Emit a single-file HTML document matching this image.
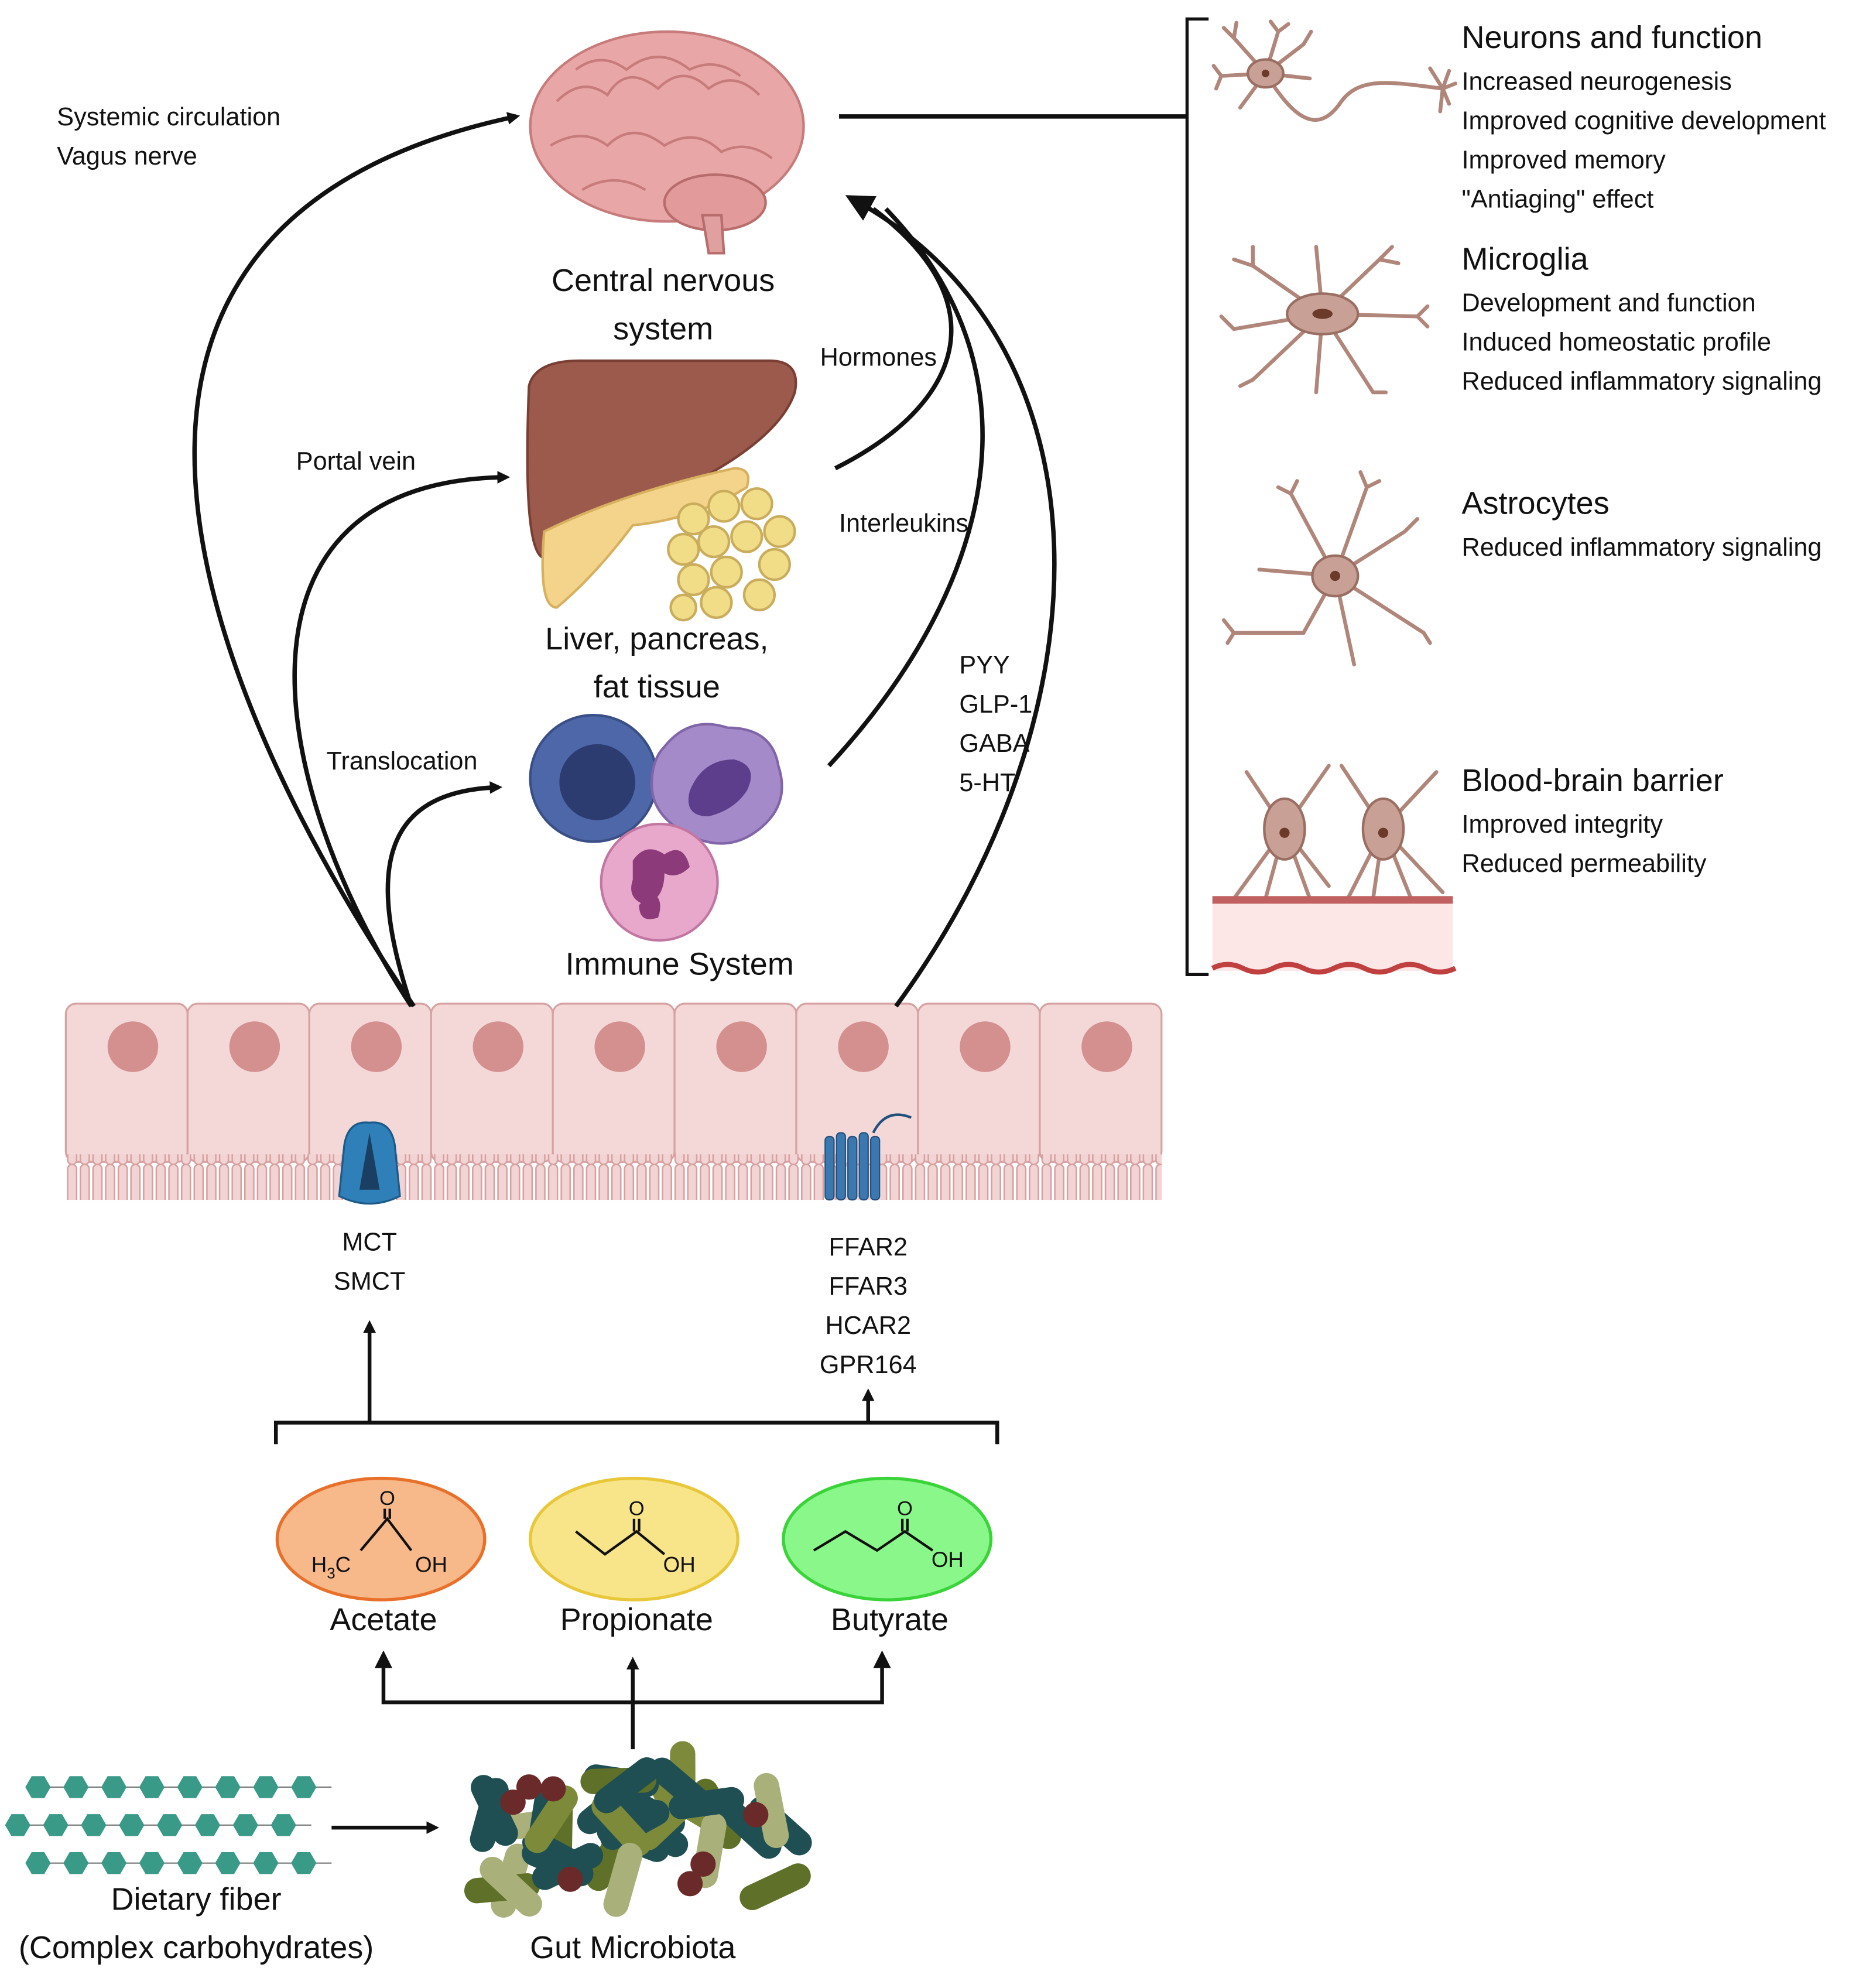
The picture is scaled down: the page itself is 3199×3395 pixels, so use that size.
<!DOCTYPE html>
<html><head><meta charset="utf-8"><style>
html,body{margin:0;padding:0;background:#fff;}
svg{display:block;}
text{font-family:"Liberation Sans",sans-serif;fill:#111;}
</style></head><body>
<svg id="s" width="3199" height="3395" viewBox="0 0 1480 1570.7" xmlns="http://www.w3.org/2000/svg">
<defs>
<marker id="ah" markerWidth="10" markerHeight="10" refX="7" refY="5" orient="auto" markerUnits="userSpaceOnUse" viewBox="0 0 10 10"><path d="M0,0 L10,5 L0,10 z" fill="#111"/></marker>
<marker id="ahb" markerWidth="22" markerHeight="22" refX="14" refY="11" orient="auto" markerUnits="userSpaceOnUse" viewBox="0 0 22 22"><path d="M0,0 L22,11 L0,22 z" fill="#111"/></marker>
<pattern id="villi" x="52" y="0" width="10" height="40" patternUnits="userSpaceOnUse"><rect x="1.5" y="0" width="7" height="40" rx="3.5" fill="#f2d4d4" stroke="#d8a0a0" stroke-width="1.2"/></pattern>
</defs>

<g>
<ellipse cx="527" cy="100" rx="108" ry="75" fill="#e9a6a6" stroke="#c77b7b" stroke-width="2"/>
<path d="M440,80 q20,-20 40,-5 q15,-25 40,-5 q20,-20 40,0 q20,-15 40,5 M435,115 q25,-15 45,0 q20,-20 45,0 q25,-15 45,5 q20,-10 40,5 M455,55 q20,-15 40,0 q25,-20 50,0 q20,-10 40,5 M460,150 q25,-15 50,0" fill="none" stroke="#c77b7b" stroke-width="2"/>
<ellipse cx="565" cy="160" rx="40" ry="22" fill="#e29a9a" stroke="#b86d6d" stroke-width="2"/>
<path d="M555,170 L560,200 L572,200 L570,170 z" fill="#e0a0a0" stroke="#b86d6d" stroke-width="2"/>
</g>
<text x="524" y="230" font-size="25" text-anchor="middle">Central nervous</text>
<text x="524" y="268" font-size="25" text-anchor="middle">system</text>

<path d="M418,305 q5,-20 40,-20 l150,0 q25,0 20,25 q-10,30 -60,60 q-60,35 -140,70 q-15,-10 -10,-135 z" fill="#9c5a4c" stroke="#7a3f34" stroke-width="2"/>
<path d="M430,420 q60,-30 150,-50 q15,0 10,15 q-40,25 -90,30 q-30,40 -60,65 q-15,0 -10,-60 z" fill="#f3d48a" stroke="#d7b060" stroke-width="2"/>
<g fill="#f1dc88" stroke="#c9ad5c" stroke-width="2">
<circle cx="548" cy="410" r="12"/><circle cx="572" cy="400" r="12"/><circle cx="598" cy="398" r="12"/><circle cx="616" cy="420" r="12"/>
<circle cx="540" cy="434" r="12"/><circle cx="564" cy="428" r="12"/><circle cx="590" cy="424" r="12"/><circle cx="612" cy="446" r="12"/>
<circle cx="548" cy="458" r="12"/><circle cx="574" cy="452" r="12"/><circle cx="600" cy="470" r="12"/><circle cx="566" cy="476" r="12"/><circle cx="540" cy="480" r="10"/>
</g>
<text x="519" y="513" font-size="25" text-anchor="middle">Liver, pancreas,</text>
<text x="519" y="551" font-size="25" text-anchor="middle">fat tissue</text>

<circle cx="469" cy="615" r="50" fill="#4d67a8" stroke="#3a4f86" stroke-width="2"/>
<circle cx="472" cy="618" r="30" fill="#2c3c70"/>
<path d="M525,590 q20,-25 50,-15 q35,0 40,30 q10,30 -15,50 q-25,20 -55,5 q-30,-15 -30,-40 q0,-20 10,-30 z" fill="#a48ac8" stroke="#8066a8" stroke-width="2"/>
<path d="M545,625 q10,-25 35,-25 q20,5 10,25 q-10,15 -30,20 q-20,0 -15,-20 z" fill="#5c3e8c"/>
<circle cx="521" cy="697" r="46" fill="#e8a8cc" stroke="#c276a2" stroke-width="2"/>
<path d="M500,680 q10,-15 25,-5 q15,-10 20,10 q-10,10 -20,5 q0,20 -15,25 q-15,-5 -10,-20 z M515,705 q10,5 5,20 q-15,5 -15,-10 z" fill="#8c3a7a"/>
<text x="537" y="770" font-size="25" text-anchor="middle">Immune System</text>

<g id="cells"></g>
<rect x="52" y="912" width="866" height="36" fill="url(#villi)"/>

<path d="M272,905 q3,-20 20,-18 q17,-2 20,18 l4,40 q-24,12 -48,0 z" fill="#2f7fb8" stroke="#1c5a8a" stroke-width="1.5"/>
<path d="M292,895 l-8,45 l16,0 z" fill="#1a3f62"/>
<g fill="#3c78b0" stroke="#22507c" stroke-width="1">
<rect x="652" y="898" width="7" height="50" rx="3"/><rect x="661" y="895" width="7" height="53" rx="3"/><rect x="670" y="898" width="7" height="50" rx="3"/><rect x="679" y="895" width="7" height="53" rx="3"/><rect x="688" y="898" width="7" height="50" rx="3"/>
</g>
<path d="M690,895 q10,-20 30,-12" fill="none" stroke="#22507c" stroke-width="2"/>

<text x="292" y="988" font-size="20" text-anchor="middle">MCT</text>
<text x="292" y="1019" font-size="20" text-anchor="middle">SMCT</text>
<text x="686" y="992" font-size="20" text-anchor="middle">FFAR2</text>
<text x="686" y="1023" font-size="20" text-anchor="middle">FFAR3</text>
<text x="686" y="1054" font-size="20" text-anchor="middle">HCAR2</text>
<text x="686" y="1085" font-size="20" text-anchor="middle">GPR164</text>

<g stroke="#111" stroke-width="3" fill="none">
<path d="M218,1141 V1124 H788 V1141"/>
<path d="M292,1124 V1046" marker-end="url(#ah)"/>
<path d="M686,1124 V1100" marker-end="url(#ah)"/>
<path d="M303,1318 V1345 H697 V1318" />
<path d="M500,1382 V1312" marker-end="url(#ah)"/>
<path d="M262,1444 H344" marker-end="url(#ah)"/>
</g>
<g fill="#111"><path d="M296,1318 l7,-14 l7,14 z"/><path d="M690,1318 l7,-14 l7,14 z"/></g>

<ellipse cx="301" cy="1216" rx="82" ry="48" fill="#f7b98a" stroke="#e8702a" stroke-width="2.5"/>
<ellipse cx="501" cy="1216" rx="82" ry="48" fill="#f8e58a" stroke="#e8c83a" stroke-width="2.5"/>
<ellipse cx="701" cy="1216" rx="82" ry="48" fill="#8af78a" stroke="#3ad43a" stroke-width="2.5"/>
<g stroke="#111" stroke-width="2" fill="none">
<path d="M285,1225 L306,1200 L325,1225 M304,1200 V1192 M308,1200 V1192"/>
<path d="M455,1210 L478,1228 L503,1210 L525,1228 M501,1210 V1200 M505,1210 V1200"/>
<path d="M643,1225 L668,1210 L693,1225 L715,1210 L737,1225 M713,1210 V1200 M717,1210 V1200"/>
</g>
<text x="306" y="1189" font-size="16" text-anchor="middle">O</text>
<text x="503" y="1197" font-size="16" text-anchor="middle">O</text>
<text x="715" y="1197" font-size="16" text-anchor="middle">O</text>
<text x="246" y="1242" font-size="17">H<tspan font-size="12" dy="5">3</tspan><tspan dy="-5">C</tspan></text>
<text x="328" y="1242" font-size="17">OH</text>
<text x="524" y="1242" font-size="17">OH</text>
<text x="736" y="1238" font-size="17">OH</text>
<text x="303" y="1288" font-size="25" text-anchor="middle">Acetate</text>
<text x="503" y="1288" font-size="25" text-anchor="middle">Propionate</text>
<text x="703" y="1288" font-size="25" text-anchor="middle">Butyrate</text>

<g id="fiber"></g>
<g id="bact"></g>
<text x="155" y="1509" font-size="25" text-anchor="middle">Dietary fiber</text>
<text x="155" y="1547" font-size="25" text-anchor="middle">(Complex carbohydrates)</text>
<text x="500" y="1547" font-size="25" text-anchor="middle">Gut Microbiota</text>

<g stroke="#111" stroke-width="3.5" fill="none">
<path d="M327,795 C180,580 -10,180 408,92" marker-end="url(#ah)"/>
<path d="M325,795 C210,620 170,380 400,377" marker-end="url(#ah)"/>
<path d="M325,795 C290,690 300,625 394,622" marker-end="url(#ah)"/>
<path d="M708,795 C880,560 880,270 675,158" marker-end="url(#ahb)"/>
<path d="M660,370 C760,320 790,240 690,165"/>
<path d="M655,605 C780,470 830,300 700,165"/>
<path d="M663,92 H938"/>
<path d="M955,15 H938 V770 H955" stroke-width="2.5"/>
</g>
<g font-size="20">
<text x="45" y="99">Systemic circulation</text>
<text x="45" y="130">Vagus nerve</text>
<text x="234" y="371">Portal vein</text>
<text x="648" y="289">Hormones</text>
<text x="663" y="420">Interleukins</text>
<text x="258" y="608">Translocation</text>
<text x="758" y="532">PYY</text>
<text x="758" y="563">GLP-1</text>
<text x="758" y="594">GABA</text>
<text x="758" y="625">5-HT</text>
</g>

<g font-size="20">
<text x="1155" y="38" font-size="25">Neurons and function</text>
<text x="1155" y="71">Increased neurogenesis</text>
<text x="1155" y="102">Improved cognitive development</text>
<text x="1155" y="133">Improved memory</text>
<text x="1155" y="164">"Antiaging" effect</text>
<text x="1155" y="213" font-size="25">Microglia</text>
<text x="1155" y="246">Development and function</text>
<text x="1155" y="277">Induced homeostatic profile</text>
<text x="1155" y="308">Reduced inflammatory signaling</text>
<text x="1155" y="406" font-size="25">Astrocytes</text>
<text x="1155" y="439">Reduced inflammatory signaling</text>
<text x="1155" y="625" font-size="25">Blood-brain barrier</text>
<text x="1155" y="658">Improved integrity</text>
<text x="1155" y="689">Reduced permeability</text>
</g>

<g stroke="#b0857a" stroke-width="3" fill="none" stroke-linecap="round">
<path d="M1000,58 C1020,90 1040,110 1060,80 C1075,60 1100,65 1140,70"/>
<path d="M1000,58 L975,30 M1000,58 L965,60 M1000,58 L980,85 M1000,58 L1010,25 M1000,58 L1030,35 M1000,58 L1035,62 M975,30 l-8,-8 M975,30 l2,-12 M965,60 l-6,-8 M965,60 l-4,10 M1010,25 l-6,-8 M1010,25 l8,-6 M1030,35 l6,-10"/>
<path d="M1140,70 l5,-14 M1140,70 l10,-4 M1140,70 l5,12 M1140,70 l-2,18 M1140,70 l-10,-16"/>
<path d="M1045,248 L990,210 M1045,248 L975,260 M1045,248 L990,300 M1045,248 L1040,195 M1045,248 L1090,205 M1045,248 L1120,250 M1045,248 L1085,310 M1045,248 L1040,310 M990,210 l-15,-5 M990,210 l0,-15 M975,260 l-10,-10 M990,300 l-10,5 M1090,205 l10,-10 M1090,205 l15,3 M1120,250 l8,-8 M1120,250 l8,8 M1085,310 l10,0"/>
<path d="M1055,455 L1020,390 M1055,455 L1080,385 M1055,455 L1110,420 M1055,455 L1125,500 M1055,455 L1070,525 M1055,455 L1030,500 L975,500 M1055,455 L995,450 M1020,390 l-10,-5 M1020,390 l5,-10 M1080,385 l-5,-12 M1080,385 l10,-5 M1110,420 l10,-10 M975,500 l-8,-10 M975,500 l-5,8 M1125,500 l5,8"/>
<path d="M1015,655 L985,610 M1015,655 L1050,605 M1015,655 L975,710 M1015,655 L1000,710 M1015,655 L1035,710 M1015,655 L1050,700 M1093,655 L1060,605 M1093,655 L1135,610 M1093,655 L1065,710 M1093,655 L1085,710 M1093,655 L1115,710 M1093,655 L1140,705"/>
</g>
<g fill="#c9a096" stroke="#9a6e62" stroke-width="2">
<ellipse cx="1000" cy="58" rx="14" ry="11"/>
<ellipse cx="1045" cy="248" rx="28" ry="16"/>
<ellipse cx="1055" cy="455" rx="18" ry="16"/>
<ellipse cx="1015" cy="655" rx="16" ry="24"/>
<ellipse cx="1093" cy="655" rx="16" ry="24"/>
</g>
<g fill="#6b3a2a"><circle cx="1000" cy="58" r="3"/><ellipse cx="1045" cy="248" rx="8" ry="4"/><circle cx="1055" cy="455" r="4"/><circle cx="1015" cy="658" r="4"/><circle cx="1093" cy="658" r="4"/></g>
<rect x="958" y="712" width="190" height="55" fill="#fce6e6"/>
<rect x="958" y="708" width="190" height="6" fill="#c06060"/>
<path d="M958,765 q12,-6 24,0 t24,0 t24,0 t24,0 t24,0 t24,0 t24,0 t24,0" stroke="#c04040" stroke-width="4" fill="none"/>
</svg>
<script>
var NS="http://www.w3.org/2000/svg";
function el(p,t,a){var e=document.createElementNS(NS,t);for(var k in a)e.setAttribute(k,a[k]);p.appendChild(e);return e;}
var c=document.getElementById("cells");
for(var i=0;i<9;i++){var x=52+i*96.2;
el(c,"rect",{x:x,y:793,width:96.2,height:125,rx:8,fill:"#f4d8d8",stroke:"#d6a2a2","stroke-width":1.5});
el(c,"circle",{cx:x+53,cy:827,r:20,fill:"#d48f8f"});}
var f=document.getElementById("fiber");
var rows=[[30,1412],[14,1442],[30,1472]];
rows.forEach(function(r){el(f,"line",{x1:r[0],y1:r[1],x2:r[0]+232,y2:r[1],stroke:"#777","stroke-width":1});
for(var j=0;j<8;j++){var cx=r[0]+j*30,cy=r[1],s=10,p="";for(var k=0;k<6;k++){var a=Math.PI/3*k;p+=(cx+s*Math.cos(a))+","+(cy+s*Math.sin(a))+" ";}
el(f,"polygon",{points:p,fill:"#3a9a88"});}});
var b=document.getElementById("bact");
var cols=["#1f4f52","#5f7028","#a9b07a","#1f4f52","#7d8a3a","#1f4f52"];
var seed=7;function rnd(){seed=(seed*9301+49297)%233280;return seed/233280;}
for(var i=0;i<34;i++){var x=385+rnd()*235,y=1398+rnd()*100,a=rnd()*180;
el(b,"rect",{x:x-30,y:y-10,width:60,height:20,rx:10,fill:cols[i%6],transform:"rotate("+a+" "+x+" "+y+")"});}
for(var i=0;i<7;i++){el(b,"circle",{cx:400+rnd()*220,cy:1410+rnd()*90,r:10,fill:"#6b2a2a"});}
</script>
</body></html>
